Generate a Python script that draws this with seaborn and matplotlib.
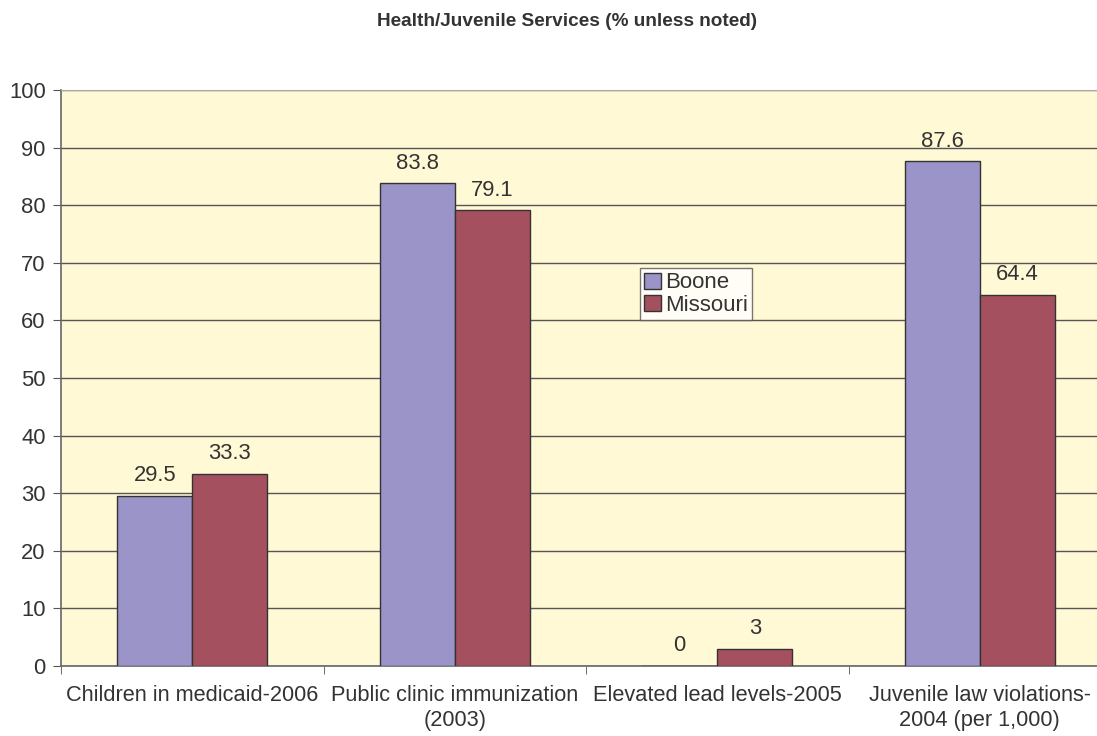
import pandas as pd
import numpy as np
import matplotlib.pyplot as plt
import seaborn as sns

categories = ["Children in medicaid-2006", "Public clinic immunization\n(2003)",
              "Elevated lead levels-2005", "Juvenile law violations-\n2004 (per 1,000)"]
boone = [29.5, 83.8, 0, 87.6]
missouri = [33.3, 79.1, 3, 64.4]
series = ["Boone", "Missouri"]

df = pd.DataFrame({
    'category': categories * 2,
    'value': boone + missouri,
    'series': ["Boone"] * len(categories) + ["Missouri"] * len(categories),
})

sns.set_style('white')
plt.rcParams['font.family'] = ['Liberation Sans', 'DejaVu Sans']
text_color = '#333333'

fig = plt.figure(figsize=(10.97, 7.36), dpi=100)
ax = fig.add_axes([61 / 1097, 1 - 666 / 736, 1050 / 1097, 576 / 736])
ax.set_facecolor('#FFF9D6')

sns.barplot(data=df, x='category', y='value', hue='series', hue_order=series,
            palette=['#9A94C8', '#A5505F'], width=0.572, gap=0,
            edgecolor='#333333', linewidth=1.0, saturation=1, ax=ax, zorder=3)

for cont in ax.containers:
    ax.bar_label(cont, fmt='%g', padding=7, fontsize=15.8, color=text_color)

ax.set_ylim(0, 100)
ax.set_xlim(-0.5, 3.5)
ax.set_yticks(np.arange(0, 101, 10))
ax.yaxis.grid(True, color='#555555', linewidth=1.0, zorder=0)
ax.set_axisbelow(True)
ax.tick_params(axis='y', labelsize=15.8, labelcolor=text_color, length=6, color='#555555',
               left=True, pad=5)
ax.set_xticks(range(len(categories)))
ax.set_xticklabels(categories)
ax.tick_params(axis='x', which='major', length=0, pad=14, labelsize=15.7, labelcolor=text_color)
ax.set_xticks(np.arange(-0.5, 4, 1), minor=True)
ax.tick_params(axis='x', which='minor', length=6, color='#555555', bottom=True)
ax.set_xlabel('')
ax.set_ylabel('')

for side in ['left', 'bottom']:
    ax.spines[side].set_color('#666666')
    ax.spines[side].set_linewidth(1.2)
ax.spines['top'].set_color('#AAAAAA')
ax.spines['right'].set_visible(False)

leg = ax.legend(loc='upper left', bbox_to_anchor=(0.551, 0.691), fontsize=16,
                frameon=True, fancybox=False, edgecolor='#555555', borderpad=0.2,
                handlelength=0.75, handleheight=0.75, handletextpad=0.2, labelspacing=0.05,
                borderaxespad=0)
leg.get_frame().set_linewidth(1.0)
leg.get_frame().set_facecolor('white')
for t in leg.get_texts():
    t.set_color(text_color)

fig.text(0.517, 1 - 21 / 736, "Health/Juvenile Services (% unless noted)",
         ha='center', va='center', fontsize=13.7, fontweight='bold', color=text_color)

plt.savefig('out.png', dpi=100)
